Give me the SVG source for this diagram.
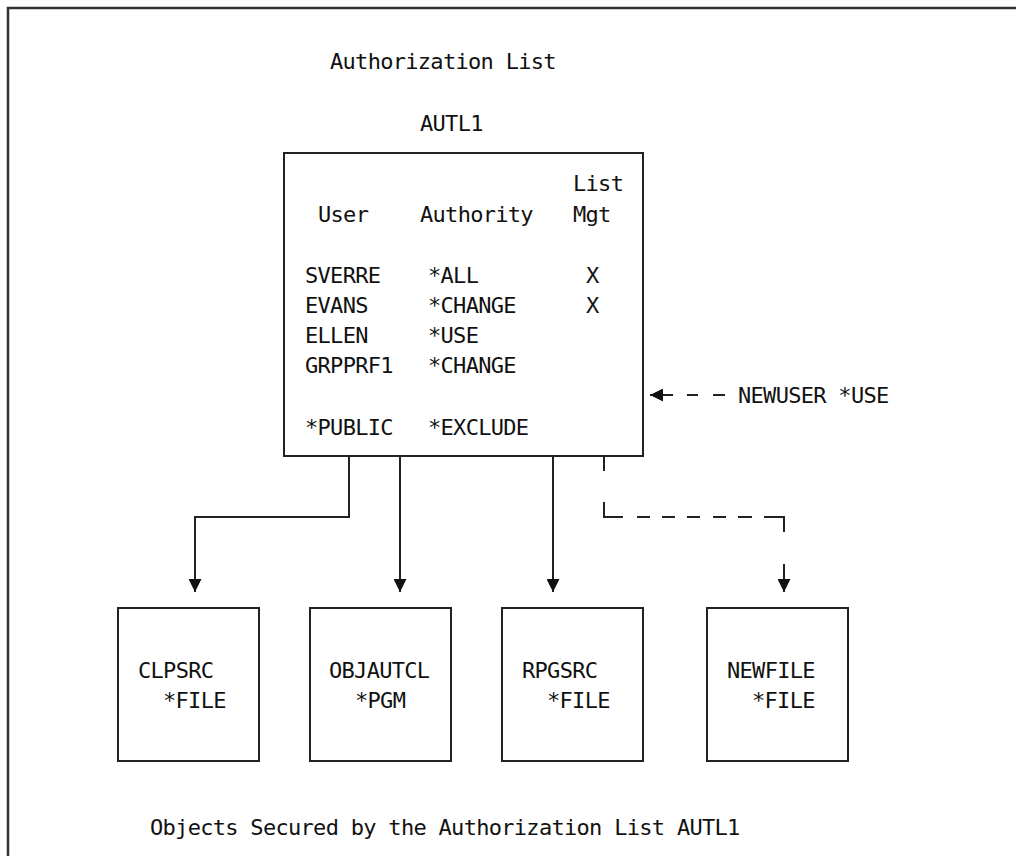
<svg xmlns="http://www.w3.org/2000/svg" width="1016" height="856" viewBox="0 0 1016 856">
  <style>
    .t { font-family: "DejaVu Sans Mono", "Liberation Mono", monospace; font-size: 22px; letter-spacing: -0.7px; fill: #111; }
    .box { fill: #fff; stroke: #222; stroke-width: 2; }
    .ln { fill: none; stroke: #222; stroke-width: 2; }
    .frame { fill: none; stroke: #333; stroke-width: 2.5; }
  </style>
  <defs>
    <marker id="arrowDown" viewBox="0 0 12 12" refX="12" refY="6" markerWidth="13" markerHeight="13" markerUnits="userSpaceOnUse" orient="auto">
      <path d="M0,0 L12,6 L0,12 Z" fill="#111"/>
    </marker>
  </defs>

  <rect width="1016" height="856" fill="#fff"/>

  <!-- page frame (top and left edges) -->
  <path class="frame" d="M8,856 V8 H1016"/>

  <!-- headings -->
  <text class="t" x="330" y="69">Authorization List</text>
  <text class="t" x="420" y="131">AUTL1</text>

  <!-- authorization list -->
  <g id="autl1">
    <rect class="box" x="284" y="153" width="359" height="303"/>
    <text class="t" x="573" y="191">List</text>
    <text class="t" x="318" y="222">User</text>
    <text class="t" x="420" y="222">Authority</text>
    <text class="t" x="573" y="222">Mgt</text>
    <text class="t" x="305" y="283">SVERRE</text>
    <text class="t" x="428" y="283">*ALL</text>
    <text class="t" x="586" y="283">X</text>
    <text class="t" x="305" y="313">EVANS</text>
    <text class="t" x="428" y="313">*CHANGE</text>
    <text class="t" x="586" y="313">X</text>
    <text class="t" x="305" y="343">ELLEN</text>
    <text class="t" x="428" y="343">*USE</text>
    <text class="t" x="305" y="373">GRPPRF1</text>
    <text class="t" x="428" y="373">*CHANGE</text>
    <text class="t" x="305" y="435">*PUBLIC</text>
    <text class="t" x="428" y="435">*EXCLUDE</text>
  </g>

  <!-- pending entry -->
  <g id="newuser">
    <text class="t" x="738" y="403">NEWUSER *USE</text>
  </g>

  <!-- secured objects -->
  <g id="clpsrc">
    <rect class="box" x="118" y="608" width="141" height="153"/>
    <text class="t" x="138" y="678">CLPSRC</text>
    <text class="t" x="163" y="708">*FILE</text>
  </g>
  <g id="objautcl">
    <rect class="box" x="310" y="608" width="141" height="153"/>
    <text class="t" x="329" y="678">OBJAUTCL</text>
    <text class="t" x="355" y="708">*PGM</text>
  </g>
  <g id="rpgsrc">
    <rect class="box" x="502" y="608" width="141" height="153"/>
    <text class="t" x="522" y="678">RPGSRC</text>
    <text class="t" x="547" y="708">*FILE</text>
  </g>
  <g id="newfile">
    <rect class="box" x="707" y="608" width="141" height="153"/>
    <text class="t" x="727" y="678">NEWFILE</text>
    <text class="t" x="752" y="708">*FILE</text>
  </g>

  <!-- connectors -->
  <g id="connectors">
    <path class="ln" d="M349,456 V517 H195 V592" marker-end="url(#arrowDown)"/>
    <path class="ln" d="M400,456 V592" marker-end="url(#arrowDown)"/>
    <path class="ln" d="M553,456 V592" marker-end="url(#arrowDown)"/>
    <!-- dashed route to the new file -->
    <path class="ln" d="M604,456 V471"/>
    <path class="ln" d="M604,502 V517 H623"/>
    <path class="ln" d="M637,517 H650 M662,517 H675 M687,517 H700 M713,517 H726 M738,517 H752"/>
    <path class="ln" d="M764,517 H784 V532"/>
    <path class="ln" d="M784,564 V592" marker-end="url(#arrowDown)"/>
    <!-- dashed arrow from the pending entry -->
    <path class="ln" d="M687,395 H698 M713,395 H725"/>
    <path class="ln" d="M673,395 H650" marker-end="url(#arrowDown)"/>
  </g>

  <!-- caption -->
  <text class="t" x="150" y="835">Objects Secured by the Authorization List AUTL1</text>
</svg>
